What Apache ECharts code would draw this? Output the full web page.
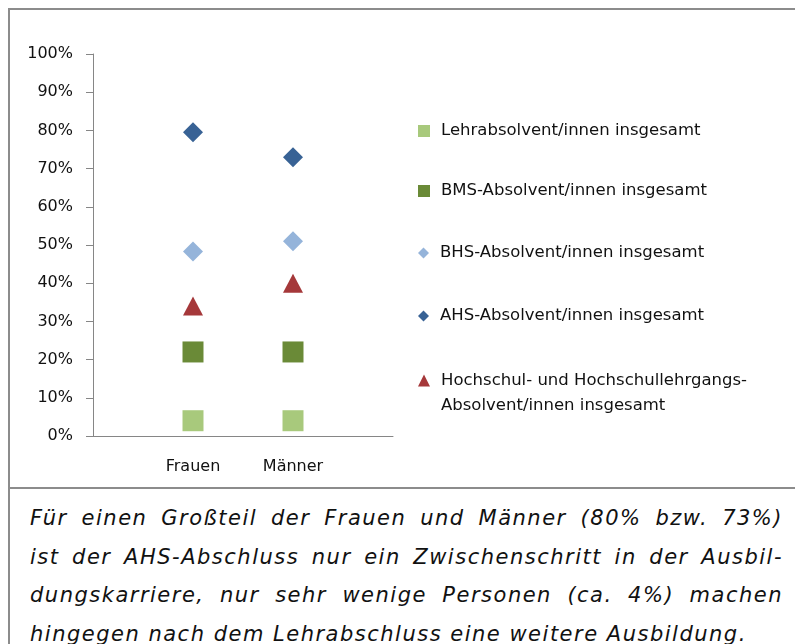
<!DOCTYPE html>
<html>
<head>
<meta charset="utf-8">
<script src="https://cdn.jsdelivr.net/npm/echarts@6/dist/echarts.min.js"></script>
<style>
    html, body { margin: 0; padding: 0; background: #fff; }
    #page { position: relative; width: 795px; height: 644px; overflow: hidden; }
    #chart { position: absolute; left: 0; top: 0; width: 795px; height: 488px; }
    .frame-top { position: absolute; left: 8px; top: 8px; width: 787px; height: 2px; background: #8c8c8c; }
    .frame-left { position: absolute; left: 8px; top: 8px; width: 2px; height: 636px; background: #8c8c8c; }
    .frame-sep { position: absolute; left: 8px; top: 487px; width: 787px; height: 2px; background: #8c8c8c; }
    #caption {
        position: absolute; left: 30px; top: 499px; width: 753px;
        font-family: "DejaVu Sans", Verdana, sans-serif; font-style: italic;
        font-size: 21px; letter-spacing: 1.5px; line-height: 38.5px; color: #111;
    }
    #caption div { text-align: justify; text-align-last: justify; white-space: nowrap; }
    #caption div.last { text-align-last: left; }
</style>
</head>
<body>
<div id="page">
    <div id="chart"></div>
    <div class="frame-top"></div>
    <div class="frame-left"></div>
    <div class="frame-sep"></div>
    <div id="caption">
        <div>Für einen Großteil der Frauen und Männer (80% bzw. 73%)</div>
        <div>ist der AHS-Abschluss nur ein Zwischenschritt in der Ausbil-</div>
        <div>dungskarriere, nur sehr wenige Personen (ca. 4%) machen</div>
        <div class="last">hingegen nach dem Lehrabschluss eine weitere Ausbildung.</div>
    </div>
</div>
<script>
// Kategorien und Werte (Anteil mit weiterer Ausbildung)
const categories = ['Frauen', 'Männer'];
const yTicks = [0, 0.1, 0.2, 0.3, 0.4, 0.5, 0.6, 0.7, 0.8, 0.9, 1];

const seriesNames = [
    'Lehrabsolvent/innen insgesamt',
    'BMS-Absolvent/innen insgesamt',
    'BHS-Absolvent/innen insgesamt',
    'AHS-Absolvent/innen insgesamt',
    'Hochschul- und Hochschullehrgangs-Absolvent/innen insgesamt'
];
const lehrValues = [0.04, 0.04];
const bmsValues = [0.22, 0.22];
const bhsValues = [0.483, 0.51];
const ahsValues = [0.795, 0.73];
const hochschulValues = [0.34, 0.40];

const chart = echarts.init(document.getElementById('chart'));

// Leere Randkategorien, damit die Punkte bei 1/3 und 2/3 liegen
const xData = [''].concat(categories).concat([' ']);

const markerDefs = [
    { values: lehrValues, symbol: 'rect', size: 21, color: '#a8c97c', legendSize: 12 },
    { values: bmsValues, symbol: 'rect', size: 21, color: '#6a8a37', legendSize: 12 },
    { values: bhsValues, symbol: 'diamond', size: 20, color: '#95b4da', legendSize: 11 },
    { values: ahsValues, symbol: 'diamond', size: 20, color: '#386295', legendSize: 11 },
    { values: hochschulValues, symbol: 'triangle', size: [20, 19], color: '#a5383a', legendSize: 12 }
];

const series = markerDefs.map((m, i) => ({
    name: seriesNames[i],
    type: 'scatter',
    symbol: m.symbol,
    symbolSize: m.size,
    itemStyle: { color: m.color, opacity: 1 },
    data: m.values.map((v, j) => [categories[j], v])
}));

// Legende: jede Zeile einzeln platziert
const legendCenters = [130, 190, 252, 315, 380];
const legends = seriesNames.map((name, i) => {
    const multi = i === 4;
    return {
        data: [{ name: name, icon: markerDefs[i].symbol, itemStyle: { opacity: 1 } }],
        left: 418,
        top: multi ? legendCenters[i] - 37 : legendCenters[i] - 8,
        padding: 0,
        itemWidth: markerDefs[i].legendSize,
        itemHeight: markerDefs[i].legendSize,
        itemGap: 0,
        selectedMode: false,
        // leere erste Zeile, damit das Symbol auf Höhe der ersten Textzeile sitzt
        formatter: multi ? '\nHochschul- und Hochschullehrgangs-\nAbsolvent/innen insgesamt' : '{name}',
        textStyle: {
            fontFamily: 'DejaVu Sans',
            fontSize: 16.5,
            color: '#111',
            lineHeight: multi ? 25 : 18,
            padding: [0, 0, 0, 6]
        }
    };
});

const option = {
    animation: false,
    backgroundColor: '#fff',
    grid: { left: 93, top: 54, width: 300, height: 382 },
    legend: legends,
    xAxis: {
        type: 'category',
        data: xData,
        boundaryGap: false,
        axisLine: { lineStyle: { color: '#868686', width: 1 } },
        axisTick: { show: false },
        axisLabel: {
            interval: 0,
            margin: 23,
            fontFamily: 'DejaVu Sans',
            fontSize: 16,
            color: '#111'
        },
        splitLine: { show: false }
    },
    yAxis: {
        type: 'value',
        min: 0,
        max: 1,
        interval: 0.1,
        axisLine: { show: true, lineStyle: { color: '#868686', width: 1 } },
        axisTick: { show: true, length: 7, lineStyle: { color: '#868686' } },
        axisLabel: {
            margin: 20,
            fontFamily: 'DejaVu Sans',
            fontSize: 16,
            color: '#111',
            formatter: v => {
                const t = yTicks.find(x => Math.abs(x - v) < 1e-9);
                return Math.round((t !== undefined ? t : v) * 100) + '%';
            }
        },
        splitLine: { show: false }
    },
    series: series
};

chart.setOption(option);
</script>
</body>
</html>
